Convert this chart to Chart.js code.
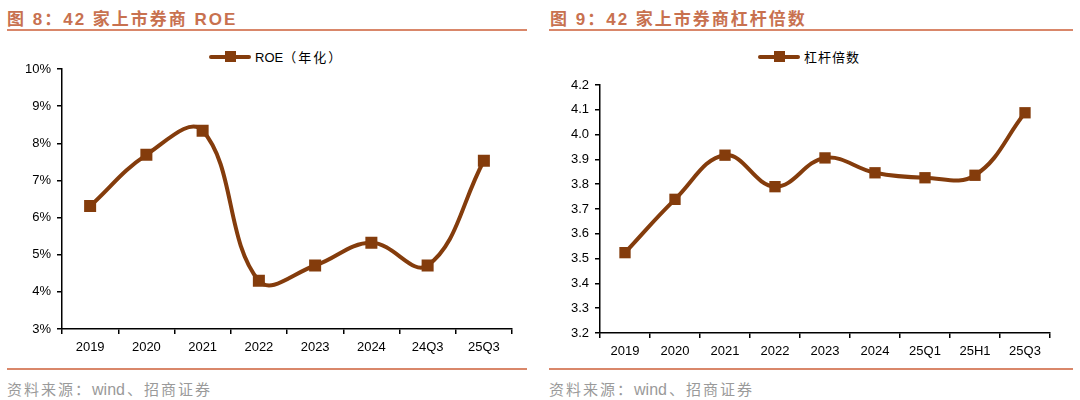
<!DOCTYPE html>
<html><head><meta charset="utf-8">
<script src="https://cdn.jsdelivr.net/npm/chart.js@4.4.1/dist/chart.umd.min.js"></script>
<style>
html,body{margin:0;padding:0;background:#fff;width:1080px;height:400px;overflow:hidden;font-family:"Liberation Sans",Arial,"Noto Sans CJK SC",sans-serif;}
.title{position:absolute;top:5px;font-size:17px;font-weight:bold;color:#C8714F;font-family:"Liberation Sans",Arial,"Noto Sans CJK SC",sans-serif;letter-spacing:2px;}
.rule{position:absolute;height:2px;background:#D9876A;}
.src{position:absolute;top:378px;font-size:15px;color:#9a9a9a;font-family:"Noto Sans CJK SC",sans-serif;letter-spacing:2px;}
.src .en{letter-spacing:0;font-family:"Liberation Sans",Arial,sans-serif;font-size:16px;margin-right:2px;}
.box{position:absolute;top:40px;height:325px;}
.leg{position:absolute;top:47px;height:18px;display:flex;align-items:center;font-size:13px;color:#000;font-family:"Liberation Sans",Arial,"Noto Sans CJK SC",sans-serif;}
.leg .sym{position:relative;width:42px;height:11px;margin-right:4px;}
.leg .sym .ln{position:absolute;left:0;right:0;top:4px;height:4px;border-radius:2px;background:#843C0C;}
.leg .sym .sq{position:absolute;left:16px;top:0;width:11px;height:11px;background:#843C0C;}
</style></head>
<body>
<div class="title" style="left:7px;">图 8：42 家上市券商 ROE</div>
<div class="rule" style="left:7px;width:520px;top:29px;"></div>
<div class="title" style="left:550px;">图 9：42 家上市券商杠杆倍数</div>
<div class="rule" style="left:549px;width:524px;top:29px;"></div>

<div class="leg" style="left:209px;"><div class="sym"><div class="ln"></div><div class="sq"></div></div><span>ROE<span style="font-family:'Noto Sans CJK SC',sans-serif;letter-spacing:2px;">（年化）</span></span></div>
<div class="leg" style="left:758px;"><div class="sym"><div class="ln"></div><div class="sq"></div></div><span style="font-family:'Noto Sans CJK SC',sans-serif;letter-spacing:1px;">杠杆倍数</span></div>

<div class="box" style="left:0;width:530px;"><canvas id="c1"></canvas></div>
<div class="box" style="left:540px;width:535px;"><canvas id="c2"></canvas></div>

<div class="rule" style="left:7px;width:520px;top:368px;"></div>
<div class="rule" style="left:549px;width:524px;top:368px;"></div>
<div class="src" style="left:7px;">资料来源：<span class="en">wind</span>、招商证券</div>
<div class="src" style="left:549px;">资料来源：<span class="en">wind</span>、招商证券</div>

<script>
const roeLabels = ['2019','2020','2021','2022','2023','2024','24Q3','25Q3'];
const roeValues = [6.31, 7.69, 8.34, 4.30, 4.71, 5.32, 4.71, 7.53];
const roeTicks = {min: 3, max: 10, step: 1};

const levLabels = ['2019','2020','2021','2022','2023','2024','25Q1','25H1','25Q3'];
const levValues = [3.524, 3.739, 3.917, 3.79, 3.906, 3.846, 3.826, 3.836, 4.088];
const levTicks = {min: 3.2, max: 4.2, step: 0.1};

const LINE = '#843C0C';
const tickFont = {family: '"Liberation Sans", Arial, sans-serif', size: 13};

function makeChart(id, labels, values, tk, fmt, pad, pr) {
  return new Chart(document.getElementById(id), {
    type: 'line',
    data: {labels: labels, datasets: [{
      data: values, borderColor: LINE, backgroundColor: LINE, borderWidth: 4,
      tension: 0.4, pointStyle: 'rect', pointRadius: pr, pointHoverRadius: pr,
      pointBackgroundColor: LINE, pointBorderColor: LINE, pointBorderWidth: 0
    }]},
    options: {
      responsive: true, maintainAspectRatio: false, animation: false,
      devicePixelRatio: 1,
      layout: {padding: pad},
      plugins: {legend: {display: false}, tooltip: {enabled: false}},
      scales: {
        x: {
          offset: true,
          grid: {display: true, drawOnChartArea: false, drawTicks: true, tickLength: 5, color: '#000', offset: true, lineWidth: 1.5},
          border: {display: true, color: '#000', width: 1.5},
          ticks: {color: '#000', font: tickFont, padding: 6, maxRotation: 0, autoSkip: false},
          afterFit: s => { s.height = 30; }
        },
        y: {
          min: tk.min, max: tk.max,
          grid: {display: true, drawOnChartArea: false, drawTicks: true, tickLength: 5, color: '#000', lineWidth: 1.5},
          border: {display: true, color: '#000', width: 1.5},
          ticks: {stepSize: tk.step, color: '#000', font: tickFont, padding: 6, callback: fmt},
          afterFit: s => { s.width = 50; }
        }
      }
    }
  });
}

makeChart('c1', roeLabels, roeValues, roeTicks, v => Math.round(v) + '%', {top: 29, bottom: 6, left: 12, right: 18}, 8.5);
makeChart('c2', levLabels, levValues, levTicks, v => (Math.round(v * 10) / 10).toFixed(1), {top: 45, bottom: 2, left: 10, right: 25}, 8);
</script>
</body></html>
